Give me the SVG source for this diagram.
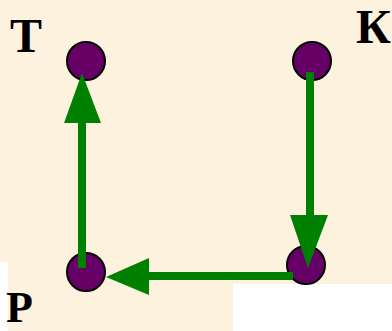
<svg xmlns="http://www.w3.org/2000/svg" width="392" height="331" viewBox="0 0 392 331">
<defs>
<style>
.node{fill:#660066;stroke:#000;stroke-width:2}
.lbl{font-family:"Liberation Serif","DejaVu Serif",serif;font-weight:bold;font-size:48px;fill:#000}
.edge{stroke:#008000;stroke-width:8;fill:none}
.head{fill:#008000}
</style>
</defs>
<rect width="392" height="331" fill="#FCF2DE"/>
<rect x="0" y="262" width="8" height="69" fill="#FFFFFF"/>
<rect x="233" y="284" width="159" height="47" fill="#FFFFFF"/>
<g id="node-T"><circle class="node" cx="86" cy="61" r="19"/><text class="lbl" x="10" y="52">Т</text></g>
<g id="node-K"><circle class="node" cx="312" cy="61" r="19"/><text class="lbl" x="356" y="43">К</text></g>
<g id="node-P"><circle class="node" cx="86" cy="272" r="19"/><text class="lbl" x="6" y="322" style="font-size:44px">Р</text></g>
<g id="node-R"><circle class="node" cx="306" cy="265" r="19"/></g>
<g id="connectors">
<line class="edge" x1="82" y1="268" x2="82" y2="120"/>
<polygon class="head" points="82,73 64,123 101,123"/>
<line class="edge" x1="310" y1="72" x2="310" y2="218"/>
<polygon class="head" points="308,268 290,215 328,215"/>
<line class="edge" x1="293" y1="276" x2="145" y2="276"/>
<polygon class="head" points="106,277 149,258 149,295"/>
</g>
</svg>
